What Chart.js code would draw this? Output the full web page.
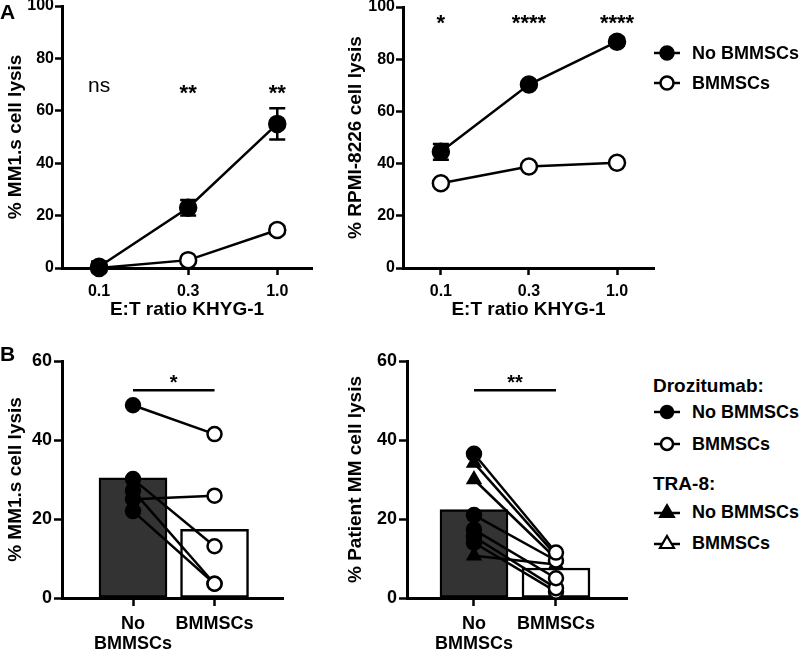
<!DOCTYPE html>
<html><head><meta charset="utf-8">
<script src="https://cdn.jsdelivr.net/npm/chart.js@4/dist/chart.umd.min.js"></script>
<style>
html,body{margin:0;padding:0;background:#fff;width:800px;height:649px;overflow:hidden;position:relative;font-family:"Liberation Sans",Arial,Helvetica,sans-serif;}
canvas{position:absolute;}
.lbl{position:absolute;font-weight:bold;color:#000;white-space:nowrap;line-height:1;transform:translateY(-50%);}
.leg{position:absolute;transform:translateY(-50%);}
</style></head><body>
<canvas id="a1" width="330" height="345" style="left:0;top:-20px"></canvas>
<canvas id="a2" width="330" height="345" style="left:340px;top:-20px"></canvas>
<canvas id="b1" width="300" height="330" style="left:0;top:330px"></canvas>
<canvas id="b2" width="300" height="330" style="left:340px;top:330px"></canvas>

<div class="lbl" style="left:0;top:11px;font-size:21px">A</div>
<div class="lbl" style="left:0;top:353px;font-size:21px">B</div>

<svg class="leg" style="left:653px;top:53px" width="28" height="20"><line x1="1" y1="10" x2="27" y2="10" stroke="#000" stroke-width="2.5"/><circle cx="14" cy="10" r="6.5" fill="#000" stroke="#000" stroke-width="2.5"/></svg>
<div class="lbl" style="left:692px;top:53px;font-size:18px">No BMMSCs</div>
<svg class="leg" style="left:653px;top:83px" width="28" height="20"><line x1="1" y1="10" x2="27" y2="10" stroke="#000" stroke-width="2.5"/><circle cx="14" cy="10" r="6.5" fill="#fff" stroke="#000" stroke-width="2.5"/></svg>
<div class="lbl" style="left:692px;top:83px;font-size:18px">BMMSCs</div>

<div class="lbl" style="left:653px;top:385px;font-size:19px">Drozitumab:</div>
<svg class="leg" style="left:653px;top:412px" width="28" height="20"><line x1="1" y1="10" x2="27" y2="10" stroke="#000" stroke-width="2.5"/><circle cx="14" cy="10" r="6" fill="#000" stroke="#000" stroke-width="2.5"/></svg>
<div class="lbl" style="left:692px;top:412px;font-size:18px">No BMMSCs</div>
<svg class="leg" style="left:653px;top:444px" width="28" height="20"><line x1="1" y1="10" x2="27" y2="10" stroke="#000" stroke-width="2.5"/><circle cx="14" cy="10" r="6" fill="#fff" stroke="#000" stroke-width="2.5"/></svg>
<div class="lbl" style="left:692px;top:444px;font-size:18px">BMMSCs</div>
<div class="lbl" style="left:653px;top:483px;font-size:19px">TRA-8:</div>
<svg class="leg" style="left:653px;top:512px" width="28" height="20"><line x1="1" y1="11" x2="27" y2="11" stroke="#000" stroke-width="2.5"/><polygon points="14,3 21,15 7,15" fill="#000" stroke="#000" stroke-width="2" stroke-linejoin="miter"/></svg>
<div class="lbl" style="left:692px;top:512px;font-size:18px">No BMMSCs</div>
<svg class="leg" style="left:653px;top:543px" width="28" height="20"><line x1="1" y1="11" x2="27" y2="11" stroke="#000" stroke-width="2.5"/><polygon points="14,3 21,15 7,15" fill="#fff" stroke="#000" stroke-width="2.2" stroke-linejoin="miter"/></svg>
<div class="lbl" style="left:692px;top:543px;font-size:18px">BMMSCs</div>

<script>
// ---------- data ----------
const ratios = ['0.1', '0.3', '1.0'];
const mm1NoBM = [0.5, 23, 55];
const mm1NoBMErr = [2, 3, 6];
const mm1BM = [0, 3, 14.5];
const mm1BMErr = [0.5, 1, 1.5];
const mm1Sig = ['ns', '**', '**'];

const rpmiNoBM = [44.5, 70.3, 86.7];
const rpmiNoBMErr = [3, 0.8, 1.5];
const rpmiBM = [32.5, 38.9, 40.3];
const rpmiBMErr = [0.8, 0.8, 1];
const rpmiSig = ['*', '****', '****'];

const groups = [['No', 'BMMSCs'], 'BMMSCs'];
const mm1PairNo = [48.8, 30.1, 27.2, 25.0, 22.0];
const mm1PairBM = [41.5, 13.1, 3.6, 25.9, 3.6];
const mm1Mean = [30.4, 17.4];
const mm1PairSig = '*';

const patDrozNo = [36.5, 21.0, 17.3, 15.5, 14.0];
const patDrozBM = [11.5, 9.5, 5.0, 2.5, 1.6];
const patTraNo = [34.2, 30.0, 10.7];
const patTraBM = [10.8, 10.0, 8.5];
const patMean = [22.4, 7.6];
const patSig = '**';

// ---------- setup ----------
const FONT = '"Liberation Sans", Arial, Helvetica, sans-serif';
Chart.defaults.font.family = FONT;
Chart.defaults.font.weight = 'bold';
Chart.defaults.color = '#000';

const errPlugin = {
  id: 'errbars',
  beforeDatasetsDraw(chart, args, opts) {
    const {ctx, scales: {x, y}} = chart;
    const cap = 8;
    ctx.save(); ctx.strokeStyle = '#000'; ctx.lineWidth = 2.5;
    (opts.sets || []).forEach(s => {
      chart.data.datasets[s.ds].data.forEach((p, i) => {
        const px = x.getPixelForValue(p.x), e = s.err[i];
        const y1 = y.getPixelForValue(p.y + e), y0 = y.getPixelForValue(p.y - e);
        ctx.beginPath();
        ctx.moveTo(px, y1); ctx.lineTo(px, y0);
        ctx.moveTo(px - cap, y1); ctx.lineTo(px + cap, y1);
        ctx.moveTo(px - cap, y0); ctx.lineTo(px + cap, y0);
        ctx.stroke();
      });
    });
    ctx.restore();
  }
};
const sigPlugin = {
  id: 'sig',
  afterDatasetsDraw(chart, args, opts) {
    const {ctx, scales: {x, y}} = chart;
    ctx.save(); ctx.fillStyle = '#000'; ctx.strokeStyle = '#000';
    ctx.textAlign = 'center'; ctx.textBaseline = 'alphabetic';
    (opts.bars || []).forEach(b => {
      const yy = y.getPixelForValue(b.y);
      ctx.lineWidth = 2.5; ctx.beginPath();
      ctx.moveTo(x.getPixelForValue(b.x0), yy); ctx.lineTo(x.getPixelForValue(b.x1), yy); ctx.stroke();
    });
    (opts.items || []).forEach(it => {
      ctx.font = it.font;
      ctx.fillText(it.text, x.getPixelForValue(it.x), y.getPixelForValue(it.y));
    });
    ctx.restore();
  }
};

const gridOpt = (tl) => ({offset: false, drawOnChartArea: false, drawTicks: true, tickLength: tl, tickWidth: 2.5, tickColor: '#000'});
const borderOpt = {display: true, color: '#000', width: 3};

function lineDs(vals, fill, order) {
  return {type: 'line', data: vals.map((v, i) => ({x: i, y: v})), borderColor: '#000', borderWidth: 2.5,
    pointRadius: 8, pointStyle: 'circle', pointBackgroundColor: fill, pointBorderColor: '#000', pointBorderWidth: 2.5,
    clip: false, order: order};
}
function pairDs(a, b, style) {
  return {type: 'line', data: [{x: 0, y: a}, {x: 1, y: b}], borderColor: '#000', borderWidth: 2.5,
    pointRadius: 7, pointStyle: style, pointBackgroundColor: ['#000', '#fff'], pointBorderColor: '#000',
    pointBorderWidth: 2.5, clip: false, order: 1};
}

function chartA(id, noBM, noErr, bm, bmErr, sig, sigItems, yTitle, xmin, xmax, padR, padT) {
  new Chart(document.getElementById(id), {
    type: 'line',
    data: {datasets: [lineDs(bm, '#fff', 1), lineDs(noBM, '#000', 0)]},
    options: {
      responsive: false, animation: false,
      layout: {padding: {left: 0, right: padR, top: padT, bottom: 0}},
      plugins: {legend: {display: false}, tooltip: {enabled: false},
        errbars: {sets: [{ds: 0, err: bmErr}, {ds: 1, err: noErr}]},
        sig: {items: sig.map((t, i) => Object.assign({x: i, text: t}, sigItems(t)))}},
      scales: {
        x: {type: 'linear', min: xmin, max: xmax, offset: false,
          afterBuildTicks: s => { s.ticks = ratios.map((_, i) => ({value: i})); },
          ticks: {callback: v => ratios[v], font: {size: 16}, padding: 7, maxRotation: 0, autoSkip: false},
          grid: gridOpt(7), border: borderOpt,
          title: {display: true, text: 'E:T ratio KHYG-1', font: {size: 19}, padding: {top: 0, bottom: 4}},
          afterFit: s => { s.height = 57; }},
        y: {min: 0, max: 100, ticks: {stepSize: 20, font: {size: 16}, padding: 1},
          grid: gridOpt(7), border: borderOpt,
          title: {display: true, text: yTitle, font: {size: 19}, padding: {top: 4, bottom: 4}},
          afterFit: s => { s.width = s.chart.canvas.id === 'a1' ? 62 : 63; }}
      }
    },
    plugins: [errPlugin, sigPlugin]
  });
}

chartA('a1', mm1NoBM, mm1NoBMErr, mm1BM, mm1BMErr, mm1Sig,
  t => t === 'ns' ? {y: 67, font: 'normal 21px ' + FONT} : {y: 64, font: 'bold 22px ' + FONT},
  '% MM1.s cell lysis', -0.416, 2.39, 18, 26);
chartA('a2', rpmiNoBM, rpmiNoBMErr, rpmiBM, rpmiBMErr, rpmiSig,
  t => ({y: 91, font: 'bold 22px ' + FONT}),
  '% RPMI-8226 cell lysis', -0.43, 2.42, 16, 27);

function chartB(id, meanVals, pairSets, sigText, yTitle, xmin, xmax, padR) {
  const ds = [{type: 'bar', data: meanVals.map((v, i) => ({x: i, y: v})), backgroundColor: ['#333333', '#ffffff'],
    borderColor: '#000', borderWidth: 2.5, borderSkipped: false, barThickness: 68, order: 10}];
  pairSets.forEach(ps => ps.no.forEach((a, k) => ds.push(pairDs(a, ps.bm[k], ps.style))));
  new Chart(document.getElementById(id), {
    type: 'bar',
    data: {datasets: ds},
    options: {
      responsive: false, animation: false,
      layout: {padding: {left: 0, right: padR, top: 31, bottom: 0}},
      plugins: {legend: {display: false}, tooltip: {enabled: false},
        sig: {bars: [{x0: 0, x1: 1, y: 52.6}], items: [{x: 0.5, y: 52.9, text: sigText, font: 'bold 20px ' + FONT}]}},
      scales: {
        x: {type: 'linear', min: xmin, max: xmax, offset: false,
          afterBuildTicks: s => { s.ticks = groups.map((_, i) => ({value: i})); },
          ticks: {callback: v => groups[v], font: {size: 18, lineHeight: 1.1}, padding: 8, maxRotation: 0, autoSkip: false},
          grid: gridOpt(8), border: borderOpt,
          afterFit: s => { s.height = 62; }},
        y: {min: 0, max: 60, ticks: {stepSize: 20, font: {size: 18}, padding: 2},
          grid: gridOpt(8), border: borderOpt,
          title: {display: true, text: yTitle, font: {size: 19}, padding: {top: 4, bottom: 4}},
          afterFit: s => { s.width = s.chart.canvas.id === 'b1' ? 62 : 67; }}
      }
    },
    plugins: [sigPlugin]
  });
}

chartB('b1', mm1Mean, [{no: mm1PairNo, bm: mm1PairBM, style: 'circle'}], mm1PairSig,
  '% MM1.s cell lysis', -0.871, 1.84, 17);
chartB('b2', patMean, [{no: patDrozNo, bm: patDrozBM, style: 'circle'}, {no: patTraNo, bm: patTraBM, style: 'triangle'}], patSig,
  '% Patient MM cell lysis', -0.817, 1.866, 13);
</script>
</body></html>
